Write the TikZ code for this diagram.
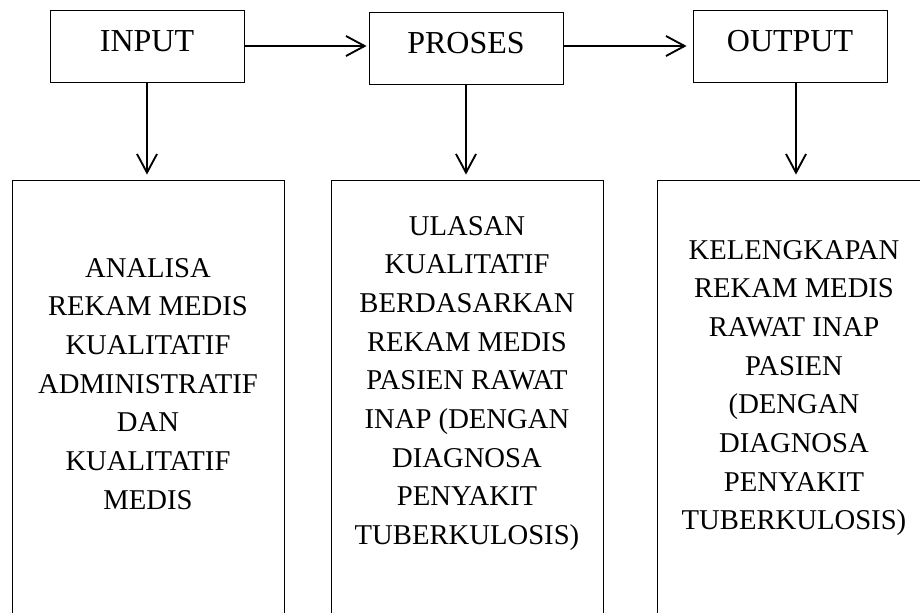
\documentclass[tikz,border=0pt]{standalone}
\usepackage{fontspec}
\setmainfont{Liberation Serif}
\usetikzlibrary{arrows.meta}

\begin{document}
\begin{tikzpicture}[x=0.75pt, y=-0.75pt]
    % Define styles
    \tikzstyle{stage} = [rectangle, draw=black, line width=0.6pt, minimum width=145.5pt, inner xsep=0pt, inner ysep=0pt, text height=30.75pt, text depth=23.25pt, font=\fontsize{24}{29}\selectfont]
    \tikzstyle{detail} = [rectangle, draw=black, line width=0.6pt, minimum width=204pt, minimum height=345pt]
    \tikzstyle{detailtext} = [anchor=north, align=center, inner sep=0pt, font=\fontsize{21.5}{29}\selectfont]
    \tikzstyle{arrow} = [line width=1.4pt, -{Straight Barb[length=14pt, width=15pt]}]

    \useasboundingbox (0,0) rectangle (920,612);
    \clip (0,0) rectangle (920,612);

    % Nodes
    \node (input) [stage] at (147,46) {INPUT};
    \node (proses) [stage] at (466,48) {PROSES};
    \node (output) [stage] at (790,46) {OUTPUT};

    \node (analisa) [detail] at (148,410) {};
    \node (ulasan) [detail] at (467,410) {};
    \node (hasil) [detail] at (793,410) {};

    \node (analisa_text) [detailtext] at (148,258) {ANALISA\\REKAM MEDIS\\KUALITATIF\\ADMINISTRATIF\\DAN\\KUALITATIF\\MEDIS};
    \node (ulasan_text) [detailtext] at (467,216) {ULASAN\\KUALITATIF\\BERDASARKAN\\REKAM MEDIS\\PASIEN RAWAT\\INAP (DENGAN\\DIAGNOSA\\PENYAKIT\\TUBERKULOSIS)};
    \node (hasil_text) [detailtext] at (794,240) {KELENGKAPAN\\REKAM MEDIS\\RAWAT INAP\\PASIEN\\(DENGAN\\DIAGNOSA\\PENYAKIT\\TUBERKULOSIS)};

    % Arrows
    \draw [arrow, shorten >=1.5pt] (input) -- (input -| proses.west);
    \draw [arrow, shorten >=4.5pt] (proses.east |- output) -- (output);
    \draw [arrow, shorten >=3.75pt] (input) -- (input |- analisa.north);
    \draw [arrow, shorten >=3.75pt] (proses) -- (proses |- ulasan.north);
    \draw [arrow, shorten >=3.75pt] ([xshift=4.5pt]output.south) -- ([xshift=4.5pt]output.south |- hasil.north);
\end{tikzpicture}
\end{document}
